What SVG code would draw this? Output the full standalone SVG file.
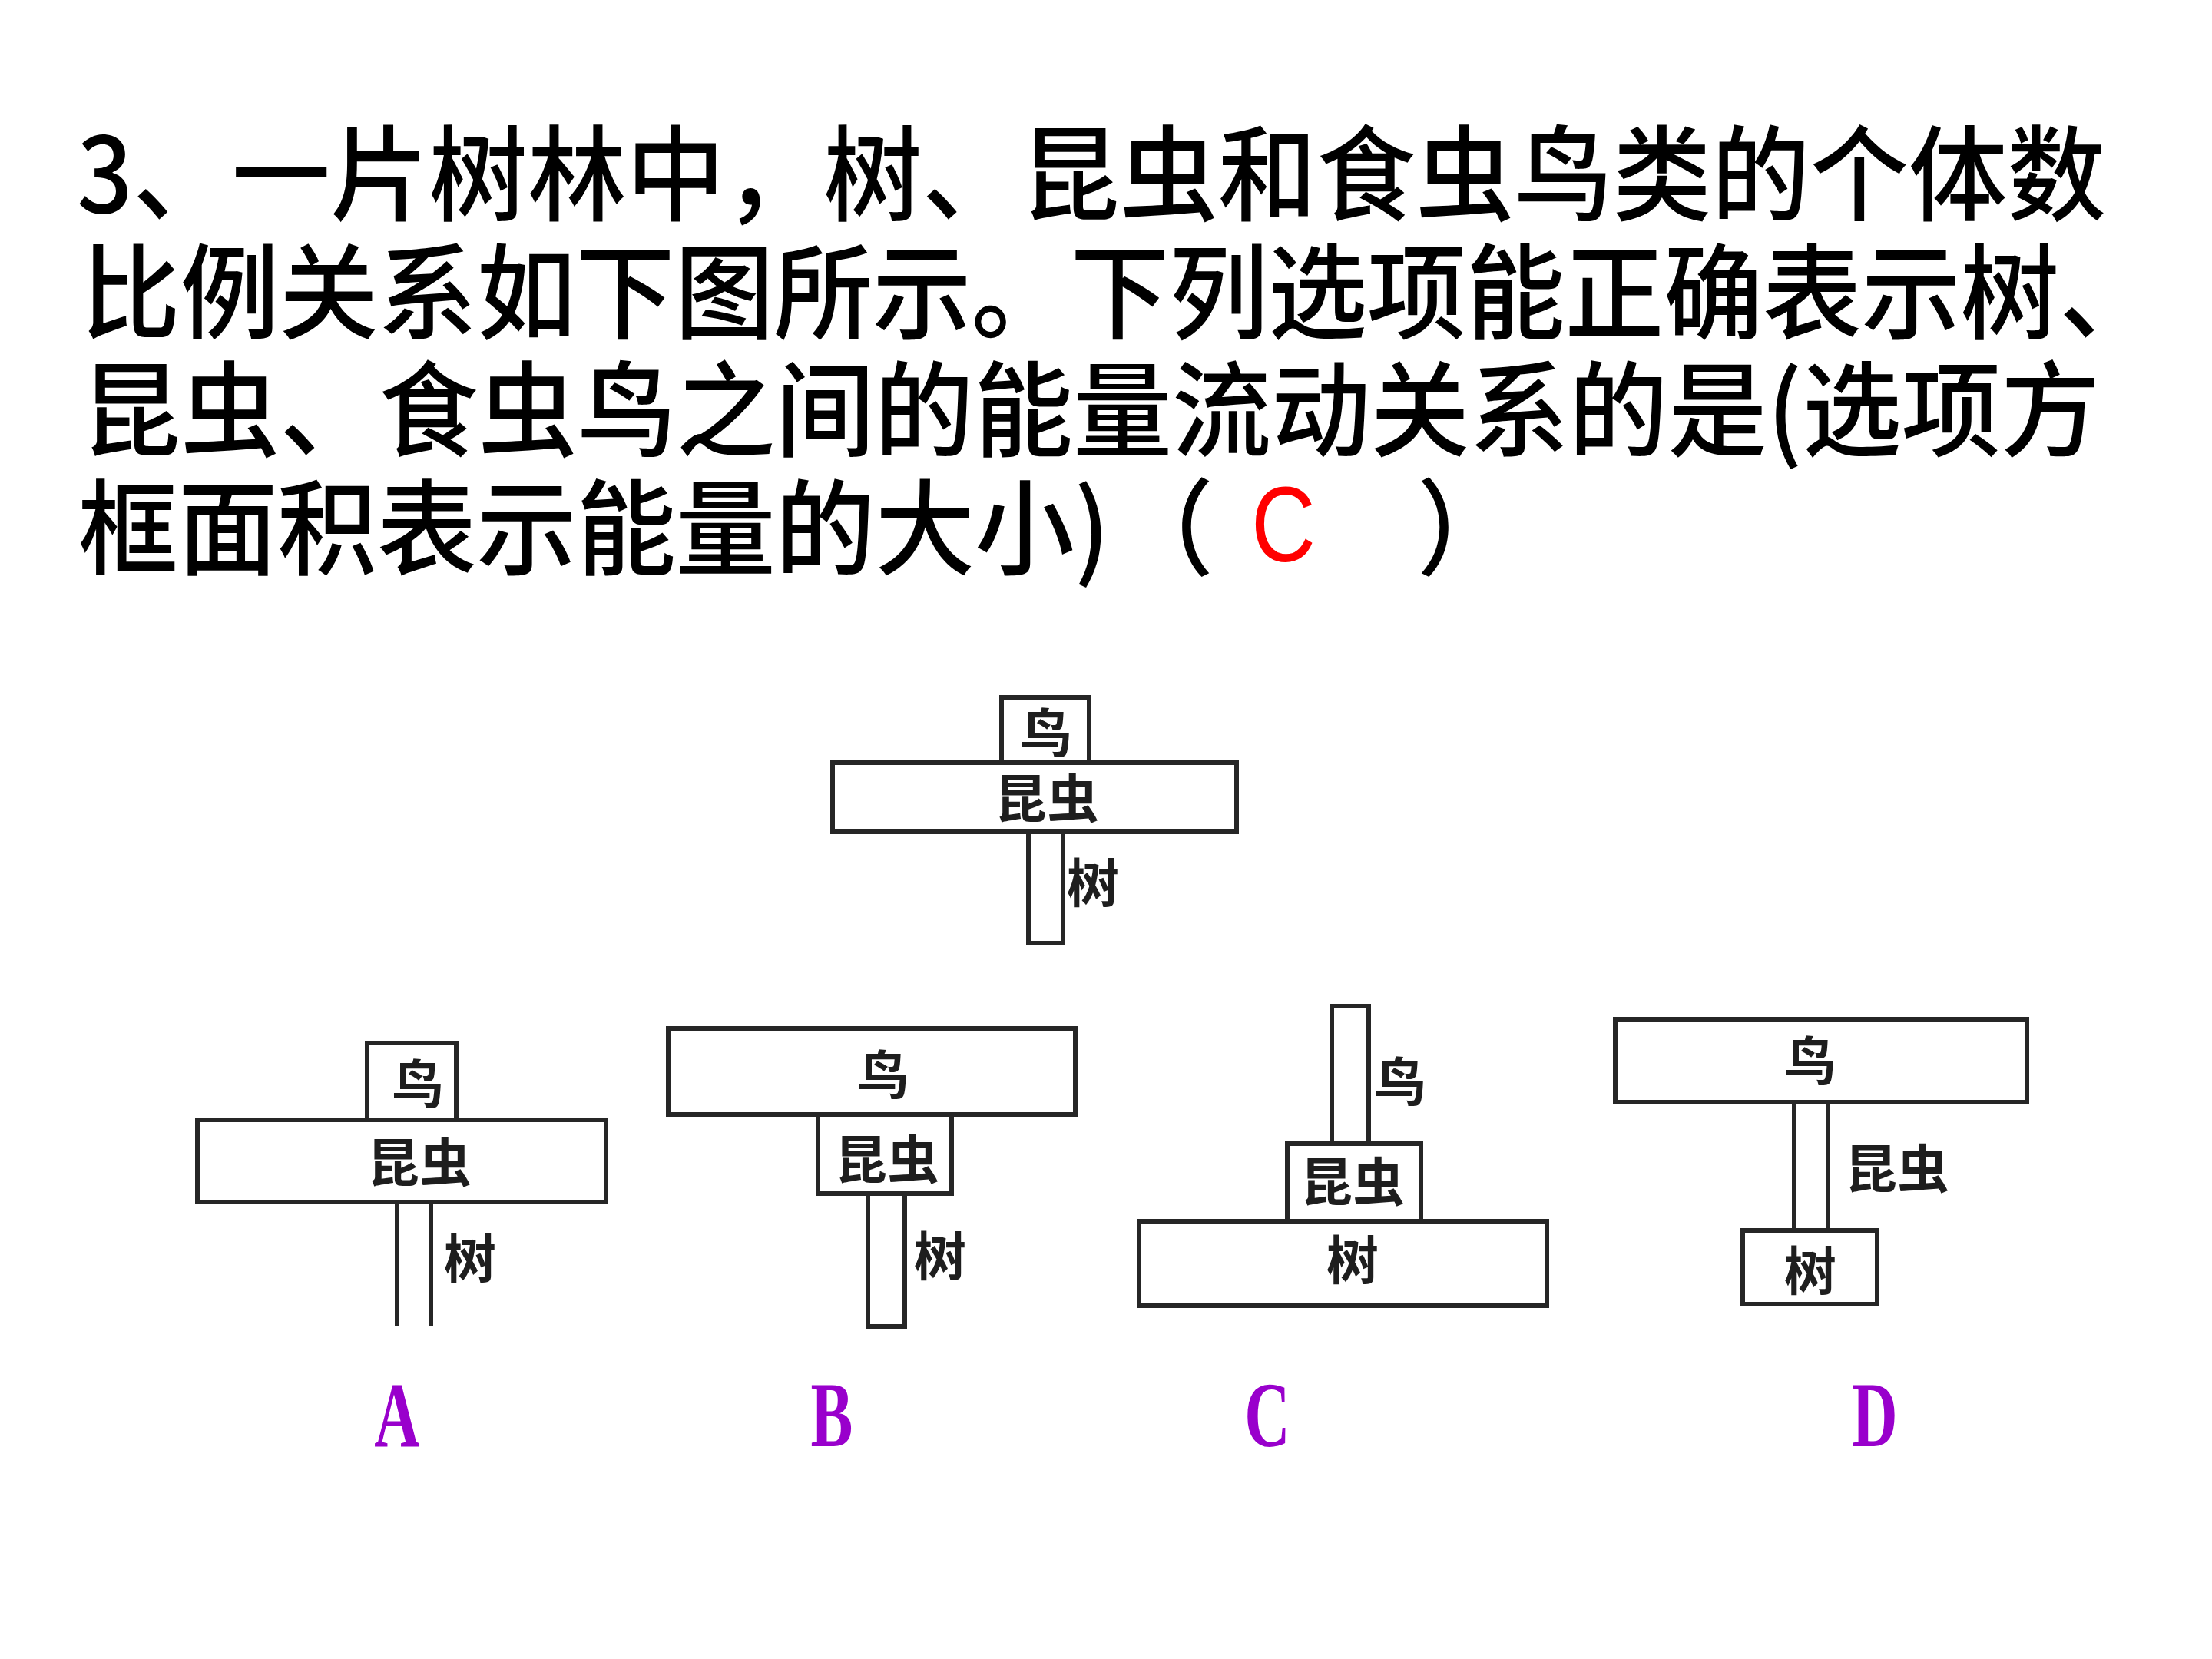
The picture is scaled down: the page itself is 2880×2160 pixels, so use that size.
<svg xmlns="http://www.w3.org/2000/svg" width="2880" height="2160" viewBox="0 0 2880 2160">
<style>
.title{font-family:"Noto Sans CJK SC","Noto Sans CJK JP",sans-serif;font-size:128px;font-weight:500;fill:#000}
.red{font-family:"Liberation Sans",sans-serif;font-size:140px;fill:#ff0000;text-anchor:middle}
.box{fill:#fff;stroke:#262626;stroke-width:6}
.ln{stroke:#262626;stroke-width:6;fill:none}
.lbl{font-family:"Noto Sans CJK SC","Noto Sans CJK JP",sans-serif;font-size:68px;font-weight:bold;fill:#1e1e1e;text-anchor:middle}
.opt{font-family:"Liberation Serif",serif;font-size:121px;font-weight:bold;fill:#9900cc;text-anchor:middle}
</style>
<rect width="2880" height="2160" fill="#fff"/>
<g id="question">
<text class="title" transform="translate(100,277) scale(1,1.06)" textLength="2642" lengthAdjust="spacingAndGlyphs">3、一片树林中，树、昆虫和食虫鸟类的个体数</text>
<text class="title" transform="translate(106,431) scale(1,1.06)" textLength="2704" lengthAdjust="spacingAndGlyphs">比例关系如下图所示。下列选项能正确表示树、</text>
<text class="title" transform="translate(106,584) scale(1,1.06)" textLength="2628" lengthAdjust="spacingAndGlyphs">昆虫、食虫鸟之间的能量流动关系的是(选项方</text>
<text class="title" transform="translate(102,738) scale(1,1.06)" textLength="1343" lengthAdjust="spacingAndGlyphs">框面积表示能量的大小)</text>
<text class="title" transform="translate(1452,738) scale(1,1.06)">（</text>
<text class="title" transform="translate(1845,738) scale(1,1.06)">）</text>
<text class="red" transform="translate(1671,731) scale(0.83,1)">C</text>
</g>
<g id="connectors"></g>
<g id="ref-bird"><rect class="box" x="1304" y="908" width="114" height="85"/><text class="lbl" x="1362" y="980">鸟</text></g>
<g id="ref-insect"><rect class="box" x="1084" y="993" width="526" height="90"/><text class="lbl" x="1363" y="1065">昆虫</text></g>
<g id="ref-tree"><rect class="box" x="1339" y="1083" width="45" height="145"/><text class="lbl" x="1423" y="1175">树</text></g>
<g id="a-bird"><rect class="box" x="478" y="1358" width="116" height="100"/><text class="lbl" x="544" y="1437">鸟</text></g>
<g id="a-insect"><rect class="box" x="257" y="1458" width="532" height="107"/><text class="lbl" x="546" y="1539">昆虫</text></g>
<g id="a-tree"><line class="ln" x1="517" y1="1565" x2="517" y2="1727"/><line class="ln" x1="561" y1="1565" x2="561" y2="1727"/><text class="lbl" x="612" y="1664">树</text></g>
<g id="b-bird"><rect class="box" x="870" y="1339" width="530" height="112"/><text class="lbl" x="1150" y="1425">鸟</text></g>
<g id="b-insect"><rect class="box" x="1065" y="1451" width="174" height="103"/><text class="lbl" x="1155" y="1535">昆虫</text></g>
<g id="b-tree"><rect class="box" x="1130" y="1554" width="48" height="173"/><text class="lbl" x="1224" y="1661">树</text></g>
<g id="c-bird"><rect class="box" x="1734" y="1310" width="48" height="179"/><text class="lbl" x="1823" y="1434">鸟</text></g>
<g id="c-insect"><rect class="box" x="1676" y="1489" width="174" height="101"/><text class="lbl" x="1761" y="1564">昆虫</text></g>
<g id="c-tree"><rect class="box" x="1483" y="1590" width="531" height="110"/><text class="lbl" x="1761" y="1666">树</text></g>
<g id="d-bird"><rect class="box" x="2103" y="1327" width="536" height="108"/><text class="lbl" x="2357" y="1407">鸟</text></g>
<g id="d-insect"><line class="ln" x1="2336" y1="1435" x2="2336" y2="1602"/><line class="ln" x1="2380" y1="1435" x2="2380" y2="1602"/><text class="lbl" x="2470" y="1547">昆虫</text></g>
<g id="d-tree"><rect class="box" x="2269" y="1602" width="175" height="96"/><text class="lbl" x="2357" y="1680">树</text></g>
<g id="options">
<text class="opt" transform="translate(517,1883) scale(0.68,1)">A</text>
<text class="opt" transform="translate(1083,1883) scale(0.68,1)">B</text>
<text class="opt" transform="translate(1650,1883) scale(0.68,1)">C</text>
<text class="opt" transform="translate(2441,1883) scale(0.68,1)">D</text>
</g>
</svg>
